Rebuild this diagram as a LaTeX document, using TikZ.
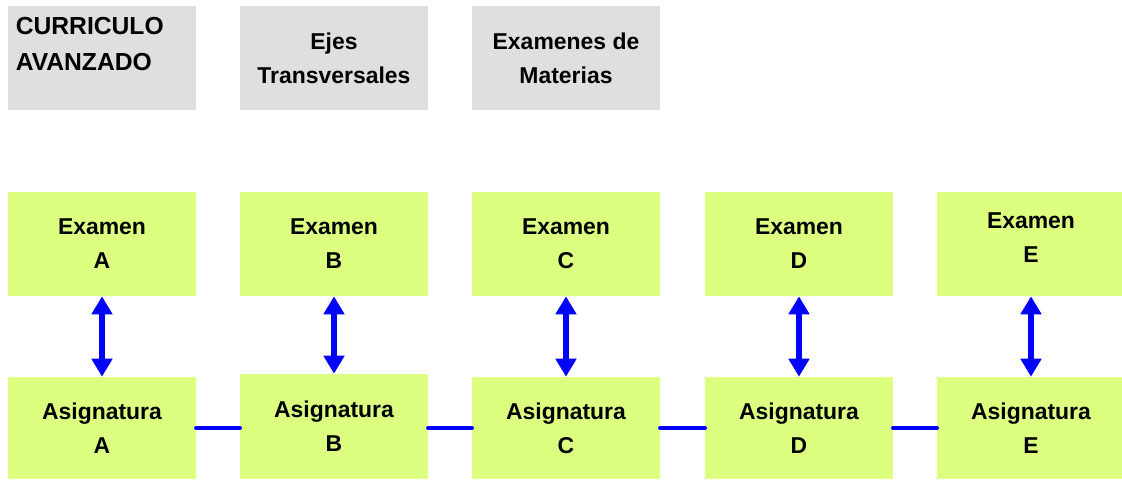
\documentclass[tikz,border=0pt]{standalone}
\usepackage{fontspec}
\setmainfont{Liberation Sans}
\usetikzlibrary{arrows.meta}

\definecolor{cajagris}{RGB}{223,223,223}
\definecolor{cajaverde}{RGB}{221,255,128}

\begin{document}
\begin{tikzpicture}[x=0.75pt, y=-0.75pt,
  gris/.style={rectangle, fill=cajagris, minimum width=141pt, minimum height=78pt,
    inner sep=0pt, align=center, font=\bfseries\fontsize{17.2}{25.5}\selectfont},
  verde/.style={gris, fill=cajaverde},
  flecha/.style={blue, line width=3.8pt,
    {Triangle[width=15pt,length=13.5pt]}-{Triangle[width=15pt,length=13.5pt]}},
  enlace/.style={blue, line width=3.5pt, line cap=round}]
\useasboundingbox (0,0) rectangle (1122,479);
% cabecera
\node [gris] (curriculo) at (102,58) {};
\node [anchor=north west, inner sep=0pt, align=left,
  font=\bfseries\fontsize{18.5}{27}\selectfont] (txcurriculo) at (15.5,17) {CURRICULO\\AVANZADO};
\node [gris] (ejes) at (334,58) {Ejes\\Transversales};
\node [gris] (materias) at (566,58) {Examenes de\\Materias};

% examenes
\node [verde] (exA) at (102,244) {Examen\\A};
\node [verde] (exB) at (334,244) {Examen\\B};
\node [verde] (exC) at (566,244) {Examen\\C};
\node [verde] (exD) at (799,244) {Examen\\D};
\node [verde] (exE) at (1031,244) {};
\node [align=center, inner sep=0pt, font=\bfseries\fontsize{17.2}{25.5}\selectfont]
  (txE) at ([yshift=5pt]exE.center) {Examen\\E};

% asignaturas
\node [verde, minimum height=76.5pt] (asigA) at (102,428) {Asignatura\\A};
\node [verde, minimum height=78.75pt] (asigB) at (334,426.5) {Asignatura\\B};
\node [verde, minimum height=76.5pt] (asigC) at (566,428) {Asignatura\\C};
\node [verde, minimum height=76.5pt] (asigD) at (799,428) {Asignatura\\D};
\node [verde, minimum height=76.5pt] (asigE) at (1031,428) {Asignatura\\E};

\draw [flecha] (exA) -- (asigA);
\draw [flecha] (exB) -- (asigB);
\draw [flecha] (exC) -- (asigC);
\draw [flecha] (exD) -- (asigD);
\draw [flecha] (exE) -- (asigE);

\draw [enlace] (asigA.east) -- (asigA.east -| asigB.west);
\draw [enlace] (asigB.east |- asigC.west) -- (asigC.west);
\draw [enlace] (asigC.east) -- (asigD.west);
\draw [enlace] (asigD.east) -- (asigE.west);
\end{tikzpicture}
\end{document}
